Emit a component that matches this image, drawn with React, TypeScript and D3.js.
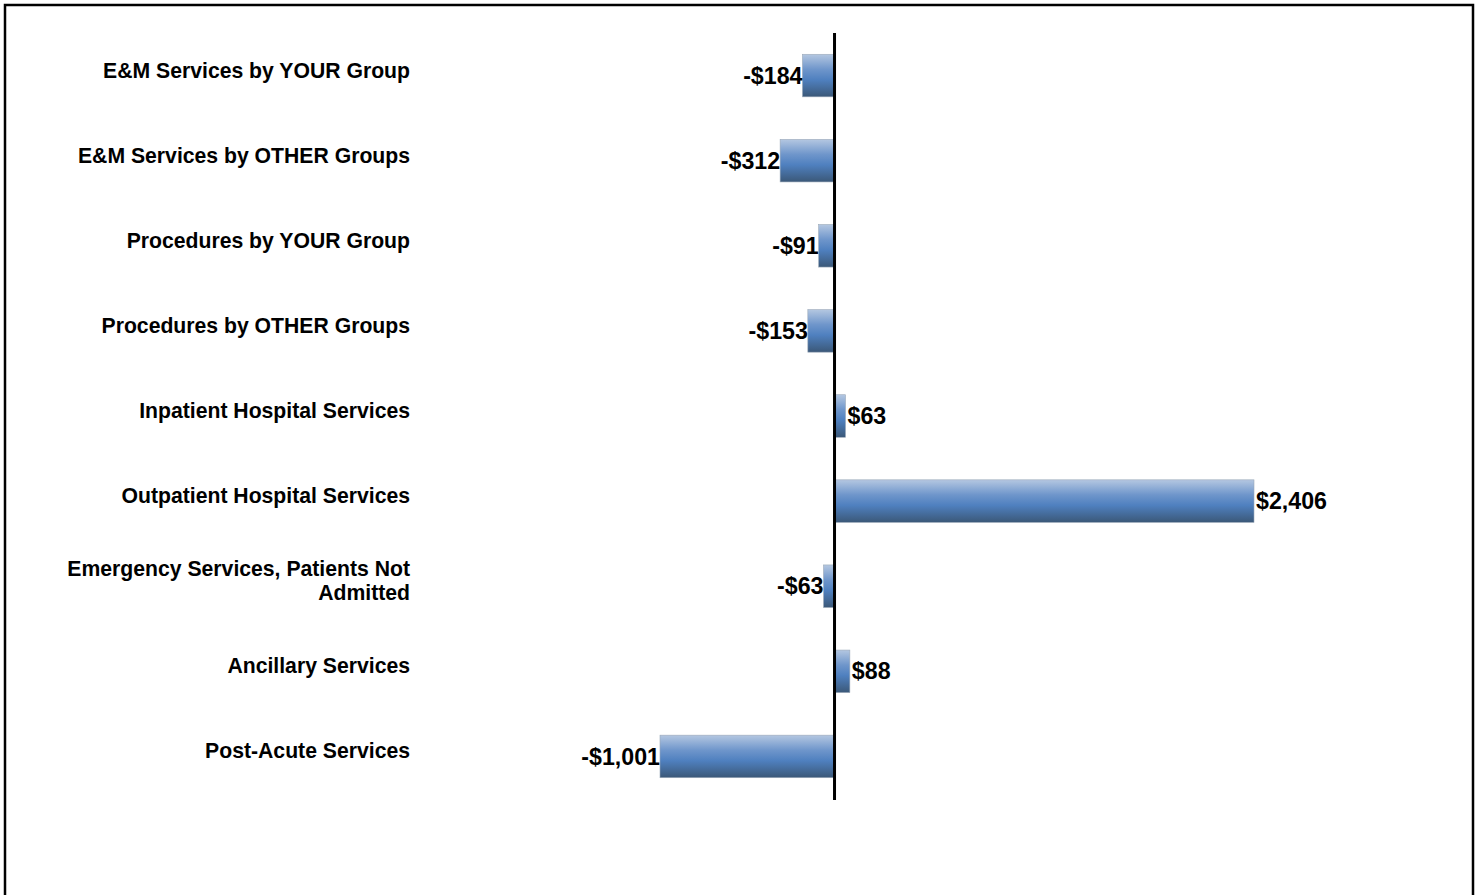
import React from "react";
import * as d3 from "d3";

const categories = [
  ["E&M Services by YOUR Group"],
  ["E&M Services by OTHER Groups"],
  ["Procedures by YOUR Group"],
  ["Procedures by OTHER Groups"],
  ["Inpatient Hospital Services"],
  ["Outpatient Hospital Services"],
  ["Emergency Services, Patients Not", "Admitted"],
  ["Ancillary Services"],
  ["Post-Acute Services"],
];
const values = [-184, -312, -91, -153, 63, 2406, -63, 88, -1001];
const valueLabels = ["-$184", "-$312", "-$91", "-$153", "$63", "$2,406", "-$63", "$88", "-$1,001"];

const W = 1481;
const H = 895;

export default function App() {
  const x = d3.scaleLinear().domain([-1001, 2406]).range([660, 1254]);
  const y = d3
    .scaleBand<number>()
    .domain(d3.range(values.length))
    .range([33, 799])
    .paddingInner(0.5)
    .paddingOuter(0.25);
  const x0 = x(0);
  const font = "Liberation Sans, Arial, Helvetica, sans-serif";
  return (
    <svg
      width={W}
      height={H}
      style={{ position: "absolute", left: 0, top: 0 }}
      fontFamily={font}
    >
      <defs>
        <linearGradient id="barGrad" x1="0" y1="0" x2="0" y2="1">
          <stop offset="0" stopColor="#b4c7e1" />
          <stop offset="0.35" stopColor="#6f96cb" />
          <stop offset="0.6" stopColor="#4f80bf" />
          <stop offset="1" stopColor="#3b5878" />
        </linearGradient>
      </defs>
      <rect x={0} y={0} width={W} height={H} fill="#fff" />
      <path
        d={`M5,${H + 5}V5H1473V${H + 5}`}
        fill="none"
        stroke="#000"
        strokeWidth={2.5}
      />
      {values.map((v, i) => {
        const yb = y(i)!;
        const bw = y.bandwidth();
        const left = Math.min(x(v), x0);
        const w = Math.abs(x(v) - x0);
        const cy = yb + bw / 2;
        return (
          <g key={i}>
            <rect
              x={left}
              y={yb}
              width={w}
              height={bw}
              fill="url(#barGrad)"
              stroke="#9aa8b8"
              strokeWidth={0.6}
            />
            <text
              x={v < 0 ? x(v) : x(v) + 2}
              y={cy + 2}
              dominantBaseline="middle"
              textAnchor={v < 0 ? "end" : "start"}
              fontSize={23.2}
              fontWeight="bold"
              fill="#000"
            >
              {valueLabels[i]}
            </text>
            <text
              x={410}
              y={cy - 4 - (categories[i].length - 1) * 12}
              dominantBaseline="middle"
              textAnchor="end"
              fontSize={21.2}
              fontWeight="bold"
              fill="#000"
            >
              {categories[i].map((line, j) => (
                <tspan key={j} x={410} dy={j === 0 ? 0 : 24}>
                  {line}
                </tspan>
              ))}
            </text>
          </g>
        );
      })}
      <line x1={x0} x2={x0} y1={33} y2={800} stroke="#000" strokeWidth={3} />
    </svg>
  );
}
